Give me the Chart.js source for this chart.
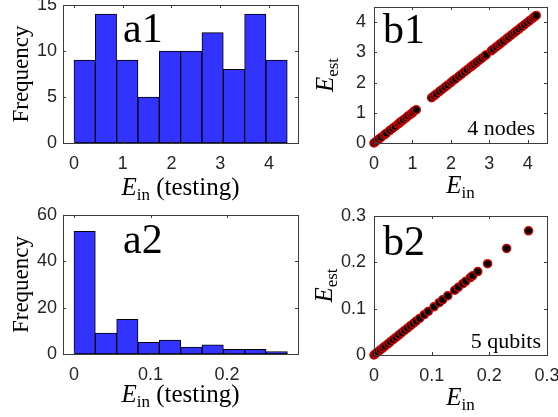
<!DOCTYPE html>
<html>
<head>
    <title>Histograms of E_in and E_est vs E_in</title>
    <script src="https://cdn.jsdelivr.net/npm/chart.js"></script>
    <style>
        body { margin: 0; background: #fff; }
        #wrap { position: relative; width: 558px; height: 417px; overflow: hidden; }
        canvas { position: absolute; }
    </style>
</head>
<body>
<div id="wrap">
    <canvas id="a1" width="310" height="205" style="left:0;top:0"></canvas>
    <canvas id="a2" width="310" height="212" style="left:0;top:205px"></canvas>
    <canvas id="b1" width="253" height="205" style="left:305px;top:0"></canvas>
    <canvas id="b2" width="253" height="212" style="left:305px;top:205px"></canvas>
</div>
<script>
// histogram a1 (4 nodes, testing set)
const a1BinCenters = [0.219, 0.656, 1.094, 1.531, 1.969, 2.406, 2.844, 3.281, 3.719, 4.156];
const a1Counts = [9, 14, 9, 5, 10, 10, 12, 8, 14, 9];
const a1XTicks = [0, 1, 2, 3, 4];
const a1YTicks = [0, 5, 10, 15];

// histogram a2 (5 qubits, testing set)
const a2BinCenters = [0.0139, 0.0418, 0.0697, 0.0976, 0.1255, 0.1534, 0.1813, 0.2092, 0.2371, 0.2650];
const a2Counts = [53, 9, 15, 5, 6, 3, 4, 2, 2, 1];
const a2XTicks = [0, 0.1, 0.2];
const a2YTicks = [0, 20, 40, 60];

// scatter b1: E_in vs E_est
const b1Ein  = [0, 0.05, 0.12, 0.18, 0.27, 0.32, 0.41, 0.48, 0.55, 0.62, 0.66, 0.70, 0.76, 0.83, 0.88, 0.95, 1.00, 1.05, 1.10,
                1.50, 1.56, 1.62, 1.70, 1.77, 1.85, 1.92, 2.00, 2.05, 2.12, 2.20, 2.27, 2.35, 2.42, 2.50, 2.55, 2.60, 2.66, 2.73, 2.80, 2.87, 2.92,
                3.05, 3.10, 3.18, 3.25, 3.30, 3.37, 3.45, 3.50, 3.57, 3.64, 3.70, 3.77, 3.84, 3.91, 3.98, 4.05, 4.12, 4.17, 4.22];
const b1Eest = [0, 0.05, 0.12, 0.18, 0.27, 0.32, 0.41, 0.48, 0.55, 0.62, 0.66, 0.71, 0.76, 0.83, 0.89, 0.95, 1.00, 1.06, 1.10,
                1.50, 1.56, 1.62, 1.70, 1.77, 1.85, 1.92, 2.00, 2.06, 2.12, 2.20, 2.27, 2.35, 2.42, 2.50, 2.55, 2.60, 2.66, 2.73, 2.80, 2.87, 2.92,
                3.05, 3.10, 3.18, 3.25, 3.30, 3.37, 3.45, 3.50, 3.57, 3.64, 3.70, 3.77, 3.84, 3.91, 3.98, 4.05, 4.12, 4.17, 4.22];
const b1XTicks = [0, 1, 2, 3, 4];
const b1YTicks = [0, 1, 2, 3, 4];

// scatter b2
const b2Ein  = [0, 0.003, 0.007, 0.011, 0.015, 0.019, 0.024, 0.028, 0.033, 0.038, 0.043, 0.048, 0.053, 0.058, 0.063, 0.068, 0.073,
                0.079, 0.087, 0.094, 0.104, 0.113, 0.119, 0.128, 0.140, 0.146, 0.154, 0.159, 0.167, 0.171, 0.180, 0.197, 0.230, 0.268];
const b2Eest = [0, 0.003, 0.007, 0.011, 0.015, 0.019, 0.024, 0.028, 0.033, 0.038, 0.043, 0.048, 0.053, 0.058, 0.063, 0.068, 0.073,
                0.079, 0.087, 0.094, 0.104, 0.113, 0.119, 0.128, 0.140, 0.146, 0.154, 0.159, 0.167, 0.171, 0.180, 0.197, 0.230, 0.268];
const b2XTicks = [0, 0.1, 0.2, 0.3];
const b2YTicks = [0, 0.1, 0.2, 0.3];

const SERIF = '"Liberation Serif", "Times New Roman", serif';
const SANS = '"Liberation Sans", Arial, Helvetica, sans-serif';
const axisColor = '#3c3c3c';

function drawParts(ctx, parts, x, y, rotated) {
    let w = 0;
    parts.forEach(p => { ctx.font = p.font; w += ctx.measureText(p.text).width; });
    ctx.save();
    ctx.translate(x, y);
    if (rotated) ctx.rotate(-Math.PI / 2);
    ctx.textAlign = 'left';
    ctx.textBaseline = 'alphabetic';
    ctx.fillStyle = '#000';
    let cx = -w / 2;
    parts.forEach(p => {
        ctx.font = p.font;
        ctx.fillText(p.text, cx, p.dy || 0);
        cx += ctx.measureText(p.text).width;
    });
    ctx.restore();
}

const eIn = (extra) => [
    { text: 'E', font: 'italic 25px ' + SERIF },
    { text: 'in', font: '17px ' + SERIF, dy: 5 }
].concat(extra ? [{ text: extra, font: '25px ' + SERIF }] : []);
const eEst = [
    { text: 'E', font: 'italic 25px ' + SERIF },
    { text: 'est', font: '17px ' + SERIF, dy: 5 }
];
const freq = [{ text: 'Frequency', font: '23px ' + SERIF }];

// box, inward ticks and the extra labels
const boxPlugin = {
    id: 'box',
    afterDraw(chart, args, o) {
        const ctx = chart.ctx;
        const a = chart.chartArea;
        const xs = chart.scales.x, ys = chart.scales.y;
        ctx.save();
        ctx.strokeStyle = axisColor;
        ctx.lineWidth = 1;
        ctx.strokeRect(Math.round(a.left) + 0.5, Math.round(a.top) + 0.5,
            Math.round(a.right - a.left), Math.round(a.bottom - a.top));
        ctx.beginPath();
        xs.ticks.forEach(t => {
            const px = Math.round(xs.getPixelForValue(t.value)) + 0.5;
            ctx.moveTo(px, a.bottom); ctx.lineTo(px, a.bottom - 3);
            ctx.moveTo(px, a.top); ctx.lineTo(px, a.top + 3);
        });
        ys.ticks.forEach(t => {
            const py = Math.round(ys.getPixelForValue(t.value)) + 0.5;
            ctx.moveTo(a.left, py); ctx.lineTo(a.left + 3, py);
            ctx.moveTo(a.right, py); ctx.lineTo(a.right - 3, py);
        });
        ctx.stroke();
        ctx.restore();

        ctx.save();
        ctx.fillStyle = '#000';
        ctx.textAlign = 'left';
        ctx.textBaseline = 'alphabetic';
        ctx.font = '42px ' + SERIF;
        ctx.fillText(o.tag, a.left + o.tagPos[0], a.top + o.tagPos[1]);
        if (o.note) {
            ctx.textAlign = 'right';
            ctx.font = '22px ' + SERIF;
            ctx.fillText(o.note, a.right + o.notePos[0], a.bottom + o.notePos[1]);
        }
        ctx.restore();
        const cx = (a.left + a.right) / 2, cy = (a.top + a.bottom) / 2;
        drawParts(ctx, o.xlabel, cx, a.bottom + o.xlabelGap, false);
        drawParts(ctx, o.ylabel, a.left - o.ylabelGap, cy, true);
    }
};

function axes(xr, yr, xTicks, yTicks, yw, xh, ypad) {
    const tickFont = { family: SANS, size: 18 };
    const fixTicks = vals => scale => { scale.ticks = vals.map(v => ({ value: v })); };
    return {
        x: {
            type: 'linear', min: xr[0], max: xr[1], offset: false,
            grid: { display: false, drawTicks: false, offset: false },
            border: { display: false },
            ticks: { font: tickFont, color: '#262626', padding: 10, maxRotation: 0, callback: v => String(v) },
            afterBuildTicks: fixTicks(xTicks),
            afterFit: s => { s.height = xh; s.paddingLeft = 0; s.paddingRight = 0; }
        },
        y: {
            type: 'linear', min: yr[0], max: yr[1],
            grid: { display: false, drawTicks: false },
            border: { display: false },
            ticks: { font: tickFont, color: '#262626', padding: ypad, callback: v => String(v) },
            afterBuildTicks: fixTicks(yTicks),
            afterFit: s => { s.width = yw; s.paddingTop = 0; s.paddingBottom = 0; }
        }
    };
}

function histChart(id, centers, counts, xr, yr, xTicks, yTicks, pad, box) {
    return new Chart(document.getElementById(id), {
        type: 'bar',
        data: {
            datasets: [{
                data: centers.map((c, i) => ({ x: c, y: counts[i] })),
                backgroundColor: 'rgb(51,51,255)',
                borderColor: '#000',
                borderWidth: 1,
                borderSkipped: false,
                barPercentage: 1,
                categoryPercentage: 1
            }]
        },
        options: {
            responsive: false, animation: false,
            layout: { padding: pad },
            plugins: { legend: { display: false }, tooltip: { enabled: false }, box: box },
            scales: axes(xr, yr, xTicks, yTicks, 50, 40, 6)
        },
        plugins: [boxPlugin]
    });
}

function scatterChart(id, xs, ys, xr, yr, xTicks, yTicks, pad, box) {
    return new Chart(document.getElementById(id), {
        type: 'scatter',
        data: {
            datasets: [{
                data: xs.map((x, i) => ({ x: x, y: ys[i] })),
                backgroundColor: '#000',
                borderColor: 'rgb(210,0,0)',
                borderWidth: 1.5,
                pointRadius: 4,
                clip: false
            }]
        },
        options: {
            responsive: false, animation: false,
            layout: { padding: pad },
            plugins: { legend: { display: false }, tooltip: { enabled: false }, box: box },
            scales: axes(xr, yr, xTicks, yTicks, 50, 40, 8)
        },
        plugins: [boxPlugin]
    });
}

histChart('a1', a1BinCenters, a1Counts, [-0.225, 4.595], [0, 15], a1XTicks, a1YTicks,
    { left: 13, top: 5, right: 12, bottom: 22 },
    { tag: 'a1', tagPos: [60, 37], xlabel: eIn(' (testing)'), xlabelGap: 52, ylabel: freq, ylabelGap: 35 });

histChart('a2', a2BinCenters, a2Counts, [-0.0144, 0.2928], [0, 60], a2XTicks, a2YTicks,
    { left: 13, top: 10, right: 12, bottom: 23 },
    { tag: 'a2', tagPos: [60, 38], xlabel: eIn(' (testing)'), xlabelGap: 48, ylabel: freq, ylabelGap: 35 });

scatterChart('b1', b1Ein, b1Eest, [0, 4.5], [0, 4.5], b1XTicks, b1YTicks,
    { left: 19, top: 7, right: 11, bottom: 22 },
    { tag: 'b1', tagPos: [9, 36], note: '4 nodes', notePos: [-12, -8], xlabel: eIn(''), xlabelGap: 50, ylabel: eEst, ylabelGap: 41 });

scatterChart('b2', b2Ein, b2Eest, [0, 0.3], [0, 0.3], b2XTicks, b2YTicks,
    { left: 19, top: 11, right: 11, bottom: 22 },
    { tag: 'b2', tagPos: [9, 39], note: '5 qubits', notePos: [-6, -7], xlabel: eIn(''), xlabelGap: 50, ylabel: eEst, ylabelGap: 42 });
</script>
</body>
</html>
